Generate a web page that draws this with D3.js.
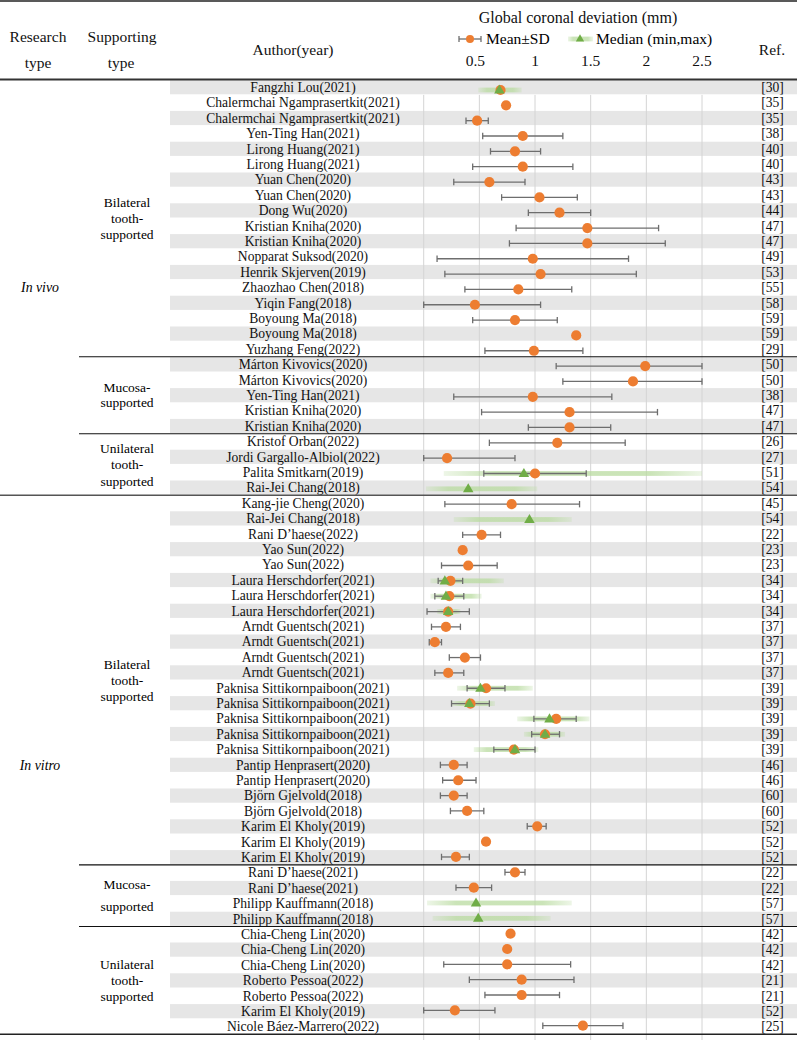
<!DOCTYPE html>
<html><head><meta charset="utf-8">
<script src="https://cdn.jsdelivr.net/npm/d3@7"></script>
<style>body{margin:0;background:#fff}</style>
</head><body><svg id="c" width="797" height="1042"></svg>
<script>
const authors = ["Fangzhi Lou(2021)","Chalermchai Ngamprasertkit(2021)","Chalermchai Ngamprasertkit(2021)","Yen-Ting Han(2021)","Lirong Huang(2021)","Lirong Huang(2021)","Yuan Chen(2020)","Yuan Chen(2020)","Dong Wu(2020)","Kristian Kniha(2020)","Kristian Kniha(2020)","Nopparat Suksod(2020)","Henrik Skjerven(2019)","Zhaozhao Chen(2018)","Yiqin Fang(2018)","Boyoung Ma(2018)","Boyoung Ma(2018)","Yuzhang Feng(2022)",
"Márton Kivovics(2020)","Márton Kivovics(2020)","Yen-Ting Han(2021)","Kristian Kniha(2020)","Kristian Kniha(2020)",
"Kristof Orban(2022)","Jordi Gargallo-Albiol(2022)","Palita Smitkarn(2019)","Rai-Jei Chang(2018)",
"Kang-jie Cheng(2020)","Rai-Jei Chang(2018)","Rani D’haese(2022)","Yao Sun(2022)","Yao Sun(2022)","Laura Herschdorfer(2021)","Laura Herschdorfer(2021)","Laura Herschdorfer(2021)","Arndt Guentsch(2021)","Arndt Guentsch(2021)","Arndt Guentsch(2021)","Arndt Guentsch(2021)","Paknisa Sittikornpaiboon(2021)","Paknisa Sittikornpaiboon(2021)","Paknisa Sittikornpaiboon(2021)","Paknisa Sittikornpaiboon(2021)","Paknisa Sittikornpaiboon(2021)","Pantip Henprasert(2020)","Pantip Henprasert(2020)","Björn Gjelvold(2018)","Björn Gjelvold(2018)","Karim El Kholy(2019)","Karim El Kholy(2019)","Karim El Kholy(2019)",
"Rani D’haese(2021)","Rani D’haese(2021)","Philipp Kauffmann(2018)","Philipp Kauffmann(2018)",
"Chia-Cheng Lin(2020)","Chia-Cheng Lin(2020)","Chia-Cheng Lin(2020)","Roberto Pessoa(2022)","Roberto Pessoa(2022)","Karim El Kholy(2019)","Nicole Báez-Marrero(2022)"];
const refs = ["[30]","[35]","[35]","[38]","[40]","[40]","[43]","[43]","[44]","[47]","[47]","[49]","[53]","[55]","[58]","[59]","[59]","[29]",
"[50]","[50]","[38]","[47]","[47]",
"[26]","[27]","[51]","[54]",
"[45]","[54]","[22]","[23]","[23]","[34]","[34]","[34]","[37]","[37]","[37]","[37]","[39]","[39]","[39]","[39]","[39]","[46]","[46]","[60]","[60]","[52]","[52]","[52]",
"[22]","[22]","[57]","[57]",
"[42]","[42]","[42]","[21]","[21]","[52]","[25]"];
const means = [0.69,0.74,0.48,0.89,0.82,0.89,0.59,1.04,1.22,1.47,1.47,0.98,1.05,0.85,0.46,0.82,1.37,0.99,
1.99,1.88,0.98,1.31,1.31,
1.20,0.21,1.00,null,
0.79,null,0.52,0.35,0.40,0.24,0.23,0.22,0.20,0.10,0.37,0.22,0.56,0.42,1.19,1.09,0.81,0.27,0.31,0.27,0.39,1.02,0.56,0.29,
0.82,0.45,null,null,
0.78,0.75,0.75,0.88,0.88,0.28,1.43];
const sdLow = [null,null,0.38,0.53,0.60,0.44,0.27,0.70,0.94,0.83,0.77,0.12,0.19,0.37,0.00,0.44,null,0.55,
1.19,1.25,0.27,0.52,0.94,
0.59,0.00,0.54,null,
0.19,null,0.35,null,0.16,0.13,0.10,0.03,0.07,0.05,0.23,0.10,0.39,0.25,0.99,0.97,0.63,0.15,0.17,0.15,0.24,0.93,null,0.16,
0.73,0.29,null,null,
null,null,0.18,0.41,0.55,0.00,1.07];
const sdHigh = [null,null,0.58,1.25,1.05,1.34,0.91,1.38,1.50,2.11,2.17,1.84,1.91,1.33,1.05,1.20,null,1.43,
2.50,2.50,1.69,2.10,1.68,
1.81,0.82,1.46,null,
1.40,null,0.69,null,0.66,0.35,0.36,0.41,0.33,0.16,0.51,0.36,0.73,0.59,1.37,1.22,1.00,0.39,0.47,0.39,0.54,1.10,null,0.41,
0.91,0.61,null,null,
null,null,1.32,1.35,1.22,0.64,1.79];
const medians = [0.68,null,null,null,null,null,null,null,null,null,null,null,null,null,null,null,null,null,
null,null,null,null,null,
null,null,0.90,0.40,
null,0.95,null,null,null,0.19,0.20,0.22,null,null,null,null,0.51,0.41,1.13,1.09,0.82,null,null,null,null,null,null,null,
null,null,0.47,0.49,
null,null,null,null,null,null,null];
const mins = [0.49,null,null,null,null,null,null,null,null,null,null,null,null,null,null,null,null,null,
null,null,null,null,null,
null,null,0.18,0.02,
null,0.27,null,null,null,0.06,0.06,0.12,null,null,null,null,0.30,0.25,0.84,0.90,0.45,null,null,null,null,null,null,null,
null,null,0.03,0.08,
null,null,null,null,null,null,null];
const maxs = [0.88,null,null,null,null,null,null,null,null,null,null,null,null,null,null,null,null,null,
null,null,null,null,null,
null,null,2.50,1.02,
null,1.33,null,null,null,0.72,0.52,0.33,null,null,null,null,0.98,0.64,1.49,1.27,1.03,null,null,null,null,null,null,null,
null,null,1.33,1.14,
null,null,null,null,null,null,null];
const researchTypes = ["In vivo","In vitro"];
const researchSpans = [[0,26],[27,61]];
const supportTypes = [["Bilateral","tooth-","supported"],["Mucosa-","supported"],["Unilateral","tooth-","supported"],["Bilateral","tooth-","supported"],["Mucosa-","supported"],["Unilateral","tooth-","supported"]];
const supportSpans = [[0,17],[18,22],[23,26],[27,50],[51,54],[55,61]];
const supportLineGap = [16,15,16.5,16,22,16];
const tickValues = [0.5,1,1.5,2,2.5];

const svg = d3.select("#c");
const FONT = "'Liberation Serif','Times New Roman',serif";
const n = authors.length;
const idx = d3.range(n);
const x = d3.scaleLinear().domain([0,2.5]).range([423.7,702]);
const table = d3.scaleBand().domain(idx).range([79.5, 79.5 + 15.4*n]);
const markY = d3.scalePoint().domain(idx).range([90, 1025.7]);
const rowMid = i => table(i) + table.bandwidth()/2;

const defs = svg.append("defs");
const grad = defs.append("linearGradient").attr("id","gband");
[[0,0.25],[0.2,0.75],[0.8,0.75],[1,0.25]].forEach(([o,op]) =>
  grad.append("stop").attr("offset",o).attr("stop-color","#b9dba0").attr("stop-opacity",op));

// row stripes
svg.append("g").selectAll("rect").data(idx.filter(i => i%2===0)).join("rect")
  .attr("x",170).attr("width",627)
  .attr("y", i => table(i)+0.6).attr("height", table.bandwidth()-1.2)
  .attr("fill","#e6e6e6");

// gridlines
svg.append("g").selectAll("line").data([0,0.5,1,1.5,2,2.5]).join("line")
  .attr("x1", d => x(d)).attr("x2", d => x(d))
  .attr("y1", table(1)).attr("y2", 1040)
  .attr("stroke","#d4d4d4").attr("stroke-width",1);

// author / ref text
svg.append("g").selectAll("text").data(idx).join("text")
  .attr("x",303).attr("y", i => rowMid(i)).attr("dy","0.35em")
  .attr("text-anchor","middle").attr("font-family",FONT).attr("font-size",13.6)
  .attr("fill","#111").text(i => authors[i]);
svg.append("g").selectAll("text").data(idx).join("text")
  .attr("x",772.5).attr("y", i => rowMid(i)).attr("dy","0.35em")
  .attr("text-anchor","middle").attr("font-family",FONT).attr("font-size",13.6)
  .attr("fill","#111").text(i => refs[i]);

// research type labels
researchSpans.forEach(([a,b],k) => {
  svg.append("text").attr("x",40).attr("y",(table(a)+table(b)+table.bandwidth())/2).attr("dy","0.35em")
    .attr("text-anchor","middle").attr("font-family",FONT).attr("font-size",13.8)
    .attr("font-style","italic").text(researchTypes[k]);
});
supportSpans.forEach(([a,b],k) => {
  const mid = (table(a)+table(b)+table.bandwidth())/2;
  const lines = supportTypes[k], g = supportLineGap[k];
  lines.forEach((t,j) => {
    svg.append("text").attr("x",127).attr("y", mid + (j-(lines.length-1)/2)*g).attr("dy","0.35em")
      .attr("text-anchor","middle").attr("font-family",FONT).attr("font-size",13.5).text(t);
  });
});

// separators
supportSpans.slice(0,-1).forEach(([a,b],k) => {
  const y = table(b)+table.bandwidth();
  const full = (b === researchSpans[0][1]);
  svg.append("line").attr("x1", full?0:79).attr("x2",797).attr("y1",y).attr("y2",y)
    .attr("stroke", full?"#555":"#111").attr("stroke-width", full?1.6:1.1);
});
svg.append("line").attr("x1",0).attr("x2",797).attr("y1",79.5).attr("y2",79.5).attr("stroke","#333").attr("stroke-width",2);
svg.append("line").attr("x1",0).attr("x2",797).attr("y1",table(n-1)+table.bandwidth()).attr("y2",table(n-1)+table.bandwidth()).attr("stroke","#222").attr("stroke-width",1.6);
svg.append("line").attr("x1",0).attr("x2",797).attr("y1",1).attr("y2",1).attr("stroke","#222").attr("stroke-width",1.5);

// green min-max bands
const medIdx = idx.filter(i => medians[i] !== null);
svg.append("g").selectAll("rect").data(medIdx).join("rect")
  .attr("x", i => x(mins[i])).attr("width", i => x(maxs[i]) - x(mins[i]))
  .attr("y", i => markY(i)-2.4).attr("height",4.8).attr("fill","url(#gband)");

// error bars
const sdIdx = idx.filter(i => sdLow[i] !== null);
const eb = svg.append("g").attr("stroke","#6e6e6e").attr("stroke-width",1.3);
eb.selectAll("line.h").data(sdIdx).join("line").attr("class","h")
  .attr("x1", i => x(sdLow[i])).attr("x2", i => x(sdHigh[i]))
  .attr("y1", i => markY(i)).attr("y2", i => markY(i));
eb.selectAll("line.l").data(sdIdx).join("line").attr("class","l")
  .attr("x1", i => x(sdLow[i])).attr("x2", i => x(sdLow[i]))
  .attr("y1", i => markY(i)-3.2).attr("y2", i => markY(i)+3.2);
eb.selectAll("line.r").data(sdIdx).join("line").attr("class","r")
  .attr("x1", i => x(sdHigh[i])).attr("x2", i => x(sdHigh[i]))
  .attr("y1", i => markY(i)-3.2).attr("y2", i => markY(i)+3.2);

// mean dots
const meanIdx = idx.filter(i => means[i] !== null);
svg.append("g").selectAll("circle").data(meanIdx).join("circle")
  .attr("cx", i => x(means[i])).attr("cy", i => markY(i)).attr("r",5.1)
  .attr("fill","#ed7d31");

// median triangles
const tri = d3.symbol().type(d3.symbolTriangle).size(48);
svg.append("g").selectAll("path").data(medIdx).join("path")
  .attr("d", tri).attr("transform", i => `translate(${x(medians[i])},${markY(i)+0.5})`)
  .attr("fill","#70ad47");

// header
const hdr = svg.append("g").attr("font-family",FONT).attr("font-size",15.5).attr("fill","#111").attr("text-anchor","middle");
hdr.append("text").attr("x",38).attr("y",37).attr("dy","0.35em").text("Research");
hdr.append("text").attr("x",38).attr("y",63).attr("dy","0.35em").text("type");
hdr.append("text").attr("x",122).attr("y",37).attr("dy","0.35em").text("Supporting");
hdr.append("text").attr("x",121).attr("y",63).attr("dy","0.35em").text("type");
hdr.append("text").attr("x",293).attr("y",50).attr("dy","0.35em").text("Author(year)");
hdr.append("text").attr("x",772).attr("y",50).attr("dy","0.35em").text("Ref.");
hdr.append("text").attr("x",578).attr("y",17).attr("dy","0.35em").attr("font-size",16).text("Global coronal deviation (mm)");
hdr.selectAll("text.tick").data(tickValues).join("text").attr("class","tick")
  .attr("x",d => d === 0.5 ? x(d) - 4 : x(d)).attr("y",61).attr("dy","0.35em").text(d => d3.format("")(d));
// legend
const lg = svg.append("g");
const LY = 39;
lg.append("line").attr("x1",459).attr("x2",481).attr("y1",LY).attr("y2",LY).attr("stroke","#6e6e6e").attr("stroke-width",1.3);
lg.append("line").attr("x1",459).attr("x2",459).attr("y1",LY-3).attr("y2",LY+3).attr("stroke","#6e6e6e").attr("stroke-width",1.3);
lg.append("line").attr("x1",481).attr("x2",481).attr("y1",LY-3).attr("y2",LY+3).attr("stroke","#6e6e6e").attr("stroke-width",1.3);
lg.append("circle").attr("cx",470).attr("cy",LY).attr("r",4).attr("fill","#ed7d31");
lg.append("text").attr("x",486).attr("y",LY).attr("dy","0.35em").attr("font-family",FONT).attr("font-size",15.5).text("Mean±SD");
lg.append("rect").attr("x",568).attr("y",LY-2.4).attr("width",25).attr("height",4.8).attr("fill","url(#gband)");
lg.append("path").attr("d",d3.symbol().type(d3.symbolTriangle).size(30)).attr("transform",`translate(580,${LY})`).attr("fill","#70ad47");
lg.append("text").attr("x",596).attr("y",LY).attr("dy","0.35em").attr("font-family",FONT).attr("font-size",15.5).text("Median (min,max)");
</script></body></html>
